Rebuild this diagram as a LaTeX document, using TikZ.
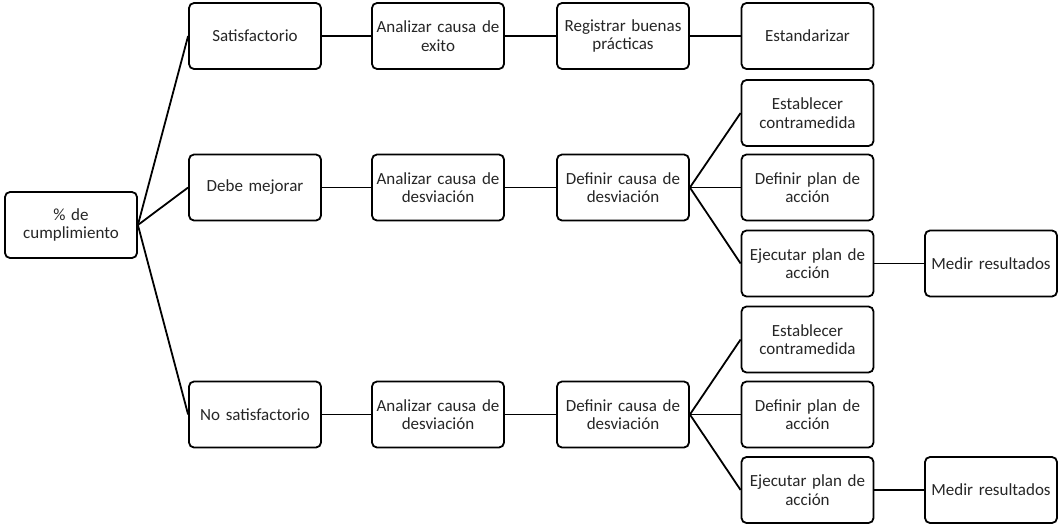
\documentclass[tikz,border=0pt]{standalone}
\usepackage{fontspec}
\setmainfont{Carlito}
\begin{document}
\begin{tikzpicture}[x=1pt,y=-1pt,
  box/.style={draw=black, line width=1.8pt, rounded corners=5pt, fill=white,
    minimum width=132pt, minimum height=66pt, inner sep=2pt,
    text width=128pt, align=center, text=black!85,
    font=\fontsize{17pt}{18.5pt}\selectfont},
  link/.style={line width=1.8pt, draw=black}]
\useasboundingbox (0,0) rectangle (1058,525);
% root
\node[box] (root) at (71,225) {\% de\\cumplimiento};
% first level
\node[box] (sat) at (255,36) {Satisfactorio};
\node[box] (dm) at (255,187.5) {Debe mejorar};
\node[box] (ns) at (255,414.5) {No satisfactorio};
% satisfactory branch
\node[box] (s1) at (438,36) {Analizar causa de\\exito};
\node[box] (s2) at (623,36) {Registrar buenas\\prácticas};
\node[box] (s3) at (807.5,36) {Estandarizar};
% improvement branch
\node[box] (d1) at (438,187.5) {Analizar causa de\\desviación};
\node[box] (d2) at (623,187.5) {Definir causa de\\desviación};
\node[box] (d3) at (807.5,113) {Establecer\\contramedida};
\node[box] (d4) at (807.5,187.5) {Definir plan de\\acción};
\node[box] (d5) at (807.5,263.5) {Ejecutar plan de\\acción};
\node[box] (d6) at (991,263.5) {Medir resultados};
% unsatisfactory branch
\node[box] (n1) at (438,414.5) {Analizar causa de\\desviación};
\node[box] (n2) at (623,414.5) {Definir causa de\\desviación};
\node[box] (n3) at (807.5,339.5) {Establecer\\contramedida};
\node[box] (n4) at (807.5,414.5) {Definir plan de\\acción};
\node[box] (n5) at (807.5,490) {Ejecutar plan de\\acción};
\node[box] (n6) at (991,490) {Medir resultados};
% connectors
\draw[link] (root.east) -- (sat.west);
\draw[link] (root.east) -- (dm.west);
\draw[link] (root.east) -- (ns.west);
\draw[link] (sat) -- (s1);
\draw[link] (s1) -- (s2);
\draw[link] (s2) -- (s3);
\draw[link] (dm) -- (d1);
\draw[link] (d1) -- (d2);
\draw[link] (d2.east) -- (d3.west);
\draw[link] (d2.east) -- (d4.west);
\draw[link] (d2.east) -- (d5.west);
\draw[link] (d5) -- (d6);
\draw[link] (ns) -- (n1);
\draw[link] (n1) -- (n2);
\draw[link] (n2.east) -- (n3.west);
\draw[link] (n2.east) -- (n4.west);
\draw[link] (n2.east) -- (n5.west);
\draw[link] (n5) -- (n6);
\end{tikzpicture}
\end{document}
